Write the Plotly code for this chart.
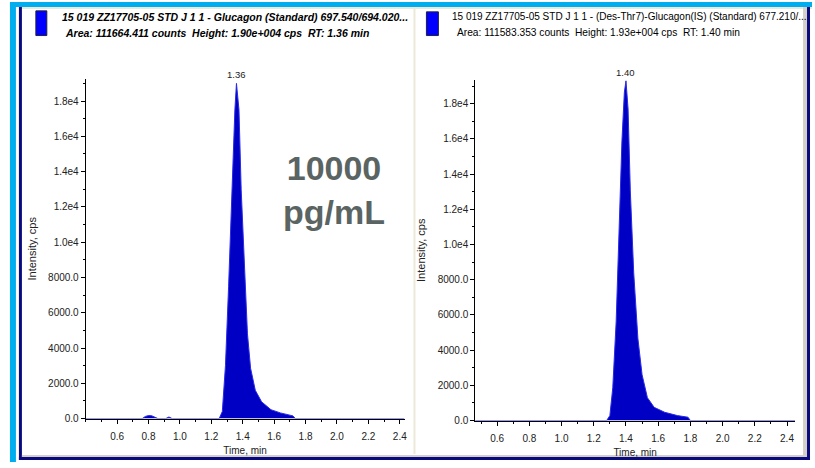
import plotly.graph_objects as go

# ---------------- data ----------------
time1 = [0.40, 0.76, 0.78, 0.80, 0.82, 0.84, 0.86, 0.91, 0.93, 0.95, 1.24,
         1.25, 1.27, 1.29, 1.31, 1.33, 1.35, 1.36, 1.376, 1.39, 1.41, 1.43,
         1.45, 1.48, 1.52, 1.58, 1.64, 1.72, 1.735, 2.43]
intensity1 = [0, 0, 120, 170, 160, 90, 0, 0, 90, 0, 0,
              0, 400, 3000, 7500, 13000, 17500, 19000, 17500, 13000, 8400, 4800,
              2850, 1600, 950, 500, 320, 150, 0, 0]

time2 = [0.46, 1.28, 1.30, 1.318, 1.339, 1.358, 1.375, 1.39, 1.40, 1.413,
         1.427, 1.448, 1.474, 1.50, 1.533, 1.575, 1.64, 1.72, 1.785, 1.80, 2.45]
intensity2 = [0, 0, 280, 1860, 5600, 11200, 15900, 18650, 19300, 17700,
              13050, 8400, 4660, 2600, 1300, 750, 470, 280, 190, 0, 0]

peak_rt = [1.36, 1.40]
peak_height = [19000, 19300]

y_tickvals = [0, 2000, 4000, 6000, 8000, 10000, 12000, 14000, 16000, 18000]
y_ticktext = ["0.0", "2000.0", "4000.0", "6000.0", "8000.0",
              "1.0e4", "1.2e4", "1.4e4", "1.6e4", "1.8e4"]
x_tickvals = [0.6, 0.8, 1.0, 1.2, 1.4, 1.6, 1.8, 2.0, 2.2, 2.4]
x_ticktext = ["0.6", "0.8", "1.0", "1.2", "1.4", "1.6", "1.8", "2.0", "2.2", "2.4"]

title1_line1 = "15 019 ZZ17705-05 STD J 1 1 - Glucagon (Standard) 697.540/694.020..."
title1_line2 = "Area: 111664.411 counts  Height: 1.90e+004 cps  RT: 1.36 min"
title2_line1 = "15 019 ZZ17705-05 STD J 1 1 - (Des-Thr7)-Glucagon(IS) (Standard) 677.210/..."
title2_line2 = "Area: 111583.353 counts  Height: 1.93e+004 cps  RT: 1.40 min"
conc_text = "10000<br>pg/mL"

# ---------------- layout helpers ----------------
W, H = 815, 468
def px(x):
    return x / W
def py(y):
    return 1 - y / H

FONT = "Arial, Liberation Sans, sans-serif"
FILL = "#0000C4"
EDGE = "#2A2AE6"

fig = go.Figure()
fig.add_trace(go.Scatter(x=time1, y=intensity1, mode="lines", fill="tozeroy",
                         fillcolor=FILL, line=dict(color=EDGE, width=1),
                         xaxis="x", yaxis="y", showlegend=False, hoverinfo="skip"))
fig.add_trace(go.Scatter(x=time2, y=intensity2, mode="lines", fill="tozeroy",
                         fillcolor=FILL, line=dict(color=EDGE, width=1),
                         xaxis="x2", yaxis="y2", showlegend=False, hoverinfo="skip"))

def xaxis_cfg(d0, d1, rng, anchor):
    return dict(domain=[px(d0), px(d1)], range=rng, anchor=anchor,
                showline=True, linecolor="black", linewidth=1, showgrid=False,
                zeroline=False, tickvals=x_tickvals, ticktext=x_ticktext,
                ticks="outside", ticklen=4, tickcolor="black", ticklabelstandoff=4,
                minor=dict(ticks="outside", ticklen=2, dtick=0.1, tickcolor="black"),
                tickfont=dict(family=FONT, size=10, color="#222"),
                title=dict(text="Time, min", font=dict(family=FONT, size=10, color="#222"),
                           standoff=6),
                fixedrange=True)

def yaxis_cfg(d0, d1, rng, anchor):
    return dict(domain=[py(d0), py(d1)], range=rng, anchor=anchor,
                showline=True, linecolor="black", linewidth=1, showgrid=False,
                zeroline=False, tickvals=y_tickvals, ticktext=y_ticktext,
                ticks="outside", ticklen=4, tickcolor="black",
                minor=dict(ticks="outside", ticklen=2, dtick=1000, tickcolor="black"),
                tickfont=dict(family=FONT, size=10, color="#222"),
                title=dict(text="Intensity, cps", font=dict(family=FONT, size=11, color="#222"),
                           standoff=9),
                fixedrange=True)

fig.update_layout(
    width=W, height=H, margin=dict(l=0, r=0, t=0, b=0),
    paper_bgcolor="white", plot_bgcolor="white",
    xaxis=xaxis_cfg(86, 406, [0.40, 2.43], "y"),
    yaxis=yaxis_cfg(424, 80, [0, 19250], "x"),
    xaxis2=xaxis_cfg(477, 798, [0.464, 2.45], "y2"),
    yaxis2=yaxis_cfg(426, 81, [0, 19350], "x2"),
)

# peak labels
for i, (xr, yr) in enumerate(zip(["x", "x2"], ["y", "y2"])):
    fig.add_annotation(x=peak_rt[i], y=peak_height[i], xref=xr, yref=yr,
                       text=f"{peak_rt[i]:.2f}", showarrow=False, yanchor="bottom",
                       yshift=1, font=dict(family=FONT, size=9.5, color="#222"))

# headers
fig.add_annotation(x=px(60), y=py(17), xref="paper", yref="paper", xanchor="left",
                   yanchor="middle", showarrow=False, text=f"<b><i>{title1_line1}</i></b>",
                   font=dict(family=FONT, size=10.5, color="black"))
fig.add_annotation(x=px(63), y=py(33), xref="paper", yref="paper", xanchor="left",
                   yanchor="middle", showarrow=False, text=f"<b><i>{title1_line2}</i></b>",
                   font=dict(family=FONT, size=10.5, color="black"))
fig.add_annotation(x=px(452), y=py(17), xref="paper", yref="paper", xanchor="left",
                   yanchor="middle", showarrow=False, text=title2_line1,
                   font=dict(family=FONT, size=10, color="black"))
fig.add_annotation(x=px(457), y=py(33), xref="paper", yref="paper", xanchor="left",
                   yanchor="middle", showarrow=False, text=title2_line2,
                   font=dict(family=FONT, size=10.2, color="black"))

# concentration label
fig.add_annotation(x=px(335), y=py(192), xref="paper", yref="paper", showarrow=False,
                   text=f"<b>{conc_text}</b>", align="center",
                   font=dict(family=FONT, size=34, color="#5A6462"))

shapes = []
def rect(x0, y0, x1, y1, color, line=None):
    shapes.append(dict(type="rect", xref="paper", yref="paper",
                       x0=px(x0), x1=px(x1), y0=py(y1), y1=py(y0),
                       fillcolor=color, line=dict(width=1, color=line) if line else dict(width=0),
                       layer="below"))

# frame
rect(10, 2, 815, 7, "#00AEEF")
rect(10, 2, 16, 468, "#00AEEF")
rect(22, 7, 815, 9, "#ECE9D8")
rect(19, 7, 22, 466, "#0A0A80")
rect(22, 461, 810, 463, "#D4D0C8")
rect(19, 463, 813, 466, "#0A0A80")
rect(806, 7, 810, 463, "#D4D0C8")
rect(810, 7, 813, 466, "#0A0A80")
rect(415, 9, 417, 460, "#ECE9D8")
# legend squares
rect(36, 11, 47, 36, "#0000FF", "#202040")
rect(428, 12, 440, 36, "#0000FF", "#202040")

fig.update_layout(shapes=shapes)
fig.write_html("out.html")
